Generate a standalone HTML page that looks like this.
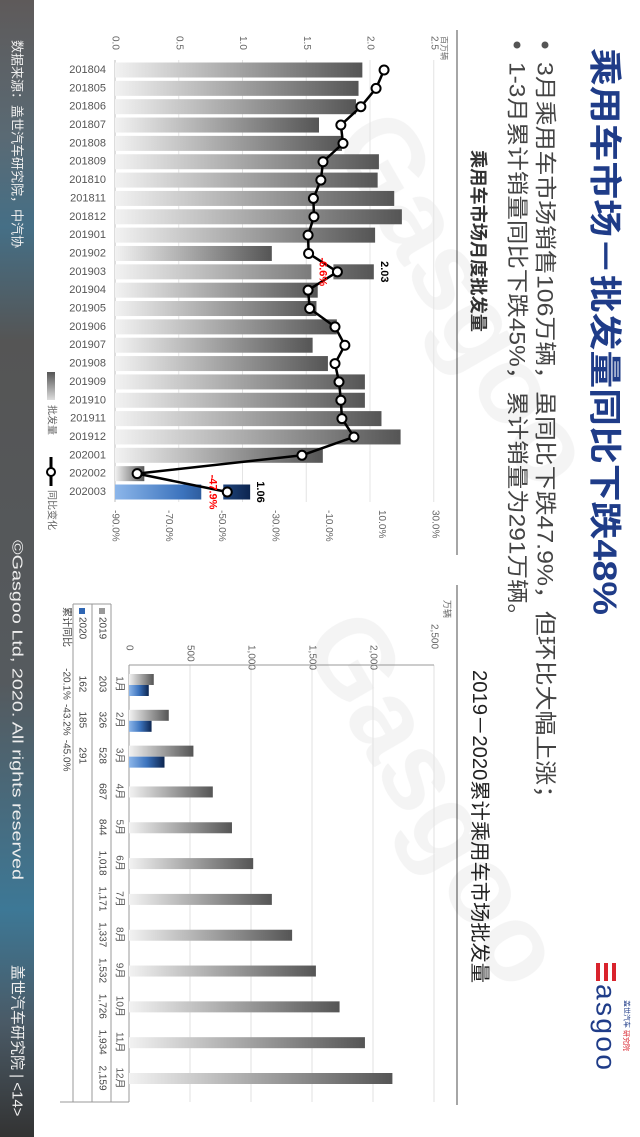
<!DOCTYPE html>
<html><head><meta charset="utf-8"><style>
html,body{margin:0;padding:0;background:#fff;}
svg{display:block;font-family:"Liberation Sans","Noto Sans CJK SC",sans-serif;}
</style></head><body>
<svg id="s" width="640" height="1137" viewBox="0 0 640 1137" xmlns="http://www.w3.org/2000/svg">
<defs>
<linearGradient id="footerG" x1="0" y1="0" x2="0" y2="1">
<stop offset="0" stop-color="#5e5a5a"/><stop offset="0.12" stop-color="#5a6a74"/><stop offset="0.2" stop-color="#456f86"/><stop offset="0.3" stop-color="#555"/><stop offset="0.6" stop-color="#555a5e"/><stop offset="0.8" stop-color="#3d7896"/><stop offset="0.9" stop-color="#4a5a66"/><stop offset="1" stop-color="#333"/>
</linearGradient>
<linearGradient id="grayH" x1="0" y1="0" x2="1" y2="0"><stop offset="0" stop-color="#f2f2f2"/><stop offset="1" stop-color="#555"/></linearGradient>
<linearGradient id="blueH" x1="0" y1="0" x2="1" y2="0"><stop offset="0" stop-color="#8cb6ea"/><stop offset="0.5" stop-color="#3c73bd"/><stop offset="1" stop-color="#0c2550"/></linearGradient>
<linearGradient id="grayV" x1="0" y1="0" x2="0" y2="1"><stop offset="0" stop-color="#555"/><stop offset="1" stop-color="#ddd"/></linearGradient>
</defs>

<rect x="0" y="0" width="34" height="1137" fill="url(#footerG)"/>
<text transform="translate(17,40) rotate(90)" dominant-baseline="central" font-size="13" fill="#eee">数据来源：盖世汽车研究院，中汽协</text>
<text transform="translate(17,540) rotate(90)" dominant-baseline="central" font-size="15" fill="#eee" textLength="340" lengthAdjust="spacingAndGlyphs">©Gasgoo Ltd, 2020. All rights reserved</text>
<text transform="translate(17,965) rotate(90)" dominant-baseline="central" font-size="15" fill="#eee">盖世汽车研究院 | &lt;14&gt;</text>

<text transform="translate(605,48) rotate(90)" dominant-baseline="central" font-size="33" font-weight="bold" fill="#1f3c88" textLength="567" lengthAdjust="spacingAndGlyphs">乘用车市场－批发量同比下跌48%</text>
<circle cx="545" cy="45" r="3.5" fill="#555"/>
<circle cx="517" cy="45" r="3.5" fill="#555"/>
<text transform="translate(545,62) rotate(90)" dominant-baseline="central" font-size="22" fill="#444" textLength="748" lengthAdjust="spacingAndGlyphs">3月乘用车市场销售106万辆，虽同比下跌47.9%，但环比大幅上涨；</text>
<text transform="translate(517,62) rotate(90)" dominant-baseline="central" font-size="22" fill="#444" textLength="566" lengthAdjust="spacingAndGlyphs">1-3月累计销量同比下跌45%，累计销量为291万辆。</text>

<text transform="translate(478,150) rotate(90)" dominant-baseline="central" font-size="18" font-weight="bold" fill="#333" textLength="182" lengthAdjust="spacingAndGlyphs">乘用车市场月度批发量</text>
<text transform="translate(479,670) rotate(90)" dominant-baseline="central" font-size="20" fill="#222" textLength="313" lengthAdjust="spacingAndGlyphs">2019－2020累计乘用车市场批发量</text>

<line x1="457" y1="30" x2="457" y2="555" stroke="#888" stroke-width="1.5"/>
<line x1="457" y1="585" x2="457" y2="1105" stroke="#888" stroke-width="1.5"/>

<g>
<rect x="596" y="963" width="4" height="18" fill="#d9232d"/>
<rect x="604" y="963" width="4" height="18" fill="#d9232d"/>
<rect x="612" y="963" width="4" height="18" fill="#d9232d"/>
<text transform="translate(606,984) rotate(90)" dominant-baseline="central" font-size="28" fill="#1f3c88" textLength="86">asgoo</text>
<text transform="translate(626,1000) rotate(90)" dominant-baseline="central" font-size="7" fill="#1f3c88">盖世汽车 <tspan fill="#d9232d">研究院</tspan></text>
</g>

<g opacity="0.045">
<text transform="translate(330,140) rotate(60)" font-size="110" font-weight="bold" fill="#000">Gasgoo</text>
<text transform="translate(300,640) rotate(60)" font-size="110" font-weight="bold" fill="#000">Gasgoo</text>
</g>

<g id="left"></g>
<g id="right"></g>
</svg>
<script>
// Left chart data
const months = ["201804","201805","201806","201807","201808","201809","201810","201811","201812","201901","201902","201903","201904","201905","201906","201907","201908","201909","201910","201911","201912","202001","202002","202003"];
const wholesale = [1.94,1.91,1.89,1.60,1.78,2.07,2.06,2.19,2.25,2.04,1.23,2.03,1.59,1.58,1.74,1.55,1.67,1.96,1.96,2.09,2.24,1.63,0.23,1.06];
const yoy = [10.9,7.9,2.2,-5.3,-4.5,-12.0,-12.8,-15.6,-15.4,-17.6,-17.4,-6.6,-17.6,-17.0,-7.5,-3.8,-7.5,-6.0,-5.3,-4.9,-0.4,-19.9,-81.7,-47.9];
const valueTicks = ["0.0","0.5","1.0","1.5","2.0","2.5"];
const pctTicks = ["-90.0%","-70.0%","-50.0%","-30.0%","-10.0%","10.0%","30.0%"];
// Right chart data
const cumMonths = ["1月","2月","3月","4月","5月","6月","7月","8月","9月","10月","11月","12月"];
const cum2019 = [203,326,528,687,844,1018,1171,1337,1532,1726,1934,2159];
const cum2020 = [162,185,291];
const cumYoy = ["-20.1%","-43.2%","-45.0%"];
const cumTicks = ["0","500","1,000","1,500","2,000","2,500"];

const NS="http://www.w3.org/2000/svg";
function mk(parent,tag,attrs,txt){const e=document.createElementNS(NS,tag);for(const k in attrs)e.setAttribute(k,attrs[k]);if(txt!==undefined)e.textContent=txt;parent.appendChild(e);return e;}
function vtext(parent,x,y,s,size,fill,anchor){return mk(parent,'text',{transform:`translate(${x},${y}) rotate(90)`,'dominant-baseline':'central','font-size':size,fill:fill,'text-anchor':anchor||'start'},s);}

// ----- left chart
const L=document.getElementById('left');
const x0=115, xPer=127.5, y0=70, yStep=(492-70)/23, bh=15;
const vx=v=>x0+v*xPer;
const px=p=>115+(p+90)*320/120;
const cy=i=>y0+i*yStep;
valueTicks.forEach((t,i)=>{
  const v=parseFloat(t);
  const g=mk(L,'line',{x1:vx(v),y1:60,x2:vx(v),y2:502,stroke:i===0?'#bbb':'#e4e4e4','stroke-width':1});
  
  
  const tt=vtext(L,vx(v),36,t,10,'#666');
  
  
});
const unitL=vtext(L,444,36,"百万辆",8,'#666');


pctTicks.forEach(t=>{
  const tt=vtext(L,px(parseFloat(t)),510,t,10,'#666');
  
  
});
months.forEach((m,i)=>{
  const last=i===months.length-1;
  const r=mk(L,'rect',{x:x0,y:cy(i)-bh/2,width:wholesale[i]*xPer,height:bh,fill:last?'url(#blueH)':'url(#grayH)'});
  
  
  const lb=mk(L,'text',{x:106,y:cy(i),'text-anchor':'end','dominant-baseline':'central','font-size':11,fill:'#555'},m);
  
  
});
[11,23].forEach(i=>{
  const b=mk(L,'rect',{x:px(yoy[i])-26,y:cy(i)-bh/2-1,width:22,height:bh+2,fill:'#fff'});
  
  
});
let d='';
yoy.forEach((p,i)=>{d+=(i?'L':'M')+px(p)+','+cy(i);});
const ln=mk(L,'path',{d:d,fill:'none',stroke:'#000','stroke-width':2.5,'stroke-linejoin':'round'});


yoy.forEach((p,i)=>{
  const c=mk(L,'circle',{cx:px(p),cy:cy(i),r:4.5,fill:'#fff',stroke:'#000','stroke-width':2});
  
  
});
[11,23].forEach(i=>{
  const t1=vtext(L,px(yoy[i])-15,cy(i),yoy[i].toFixed(1)+'%',11,'#f00','middle');
  t1.setAttribute('font-weight','bold');
  
  
  const t2=vtext(L,vx(wholesale[i])+10,cy(i),wholesale[i].toFixed(2),11,'#000','middle');
  t2.setAttribute('font-weight','bold');
  
  
});
// legend
const sw=mk(L,'rect',{x:47,y:372,width:8,height:28,fill:'url(#grayV)'});


const lt1=vtext(L,51,405,"批发量",10,'#666');


const ll=mk(L,'line',{x1:51,y1:457,x2:51,y2:486,stroke:'#000','stroke-width':3});


const lc=mk(L,'circle',{cx:51,cy:472,r:4,fill:'#fff',stroke:'#000','stroke-width':2});


const lt2=vtext(L,51,490,"同比变化",10,'#666');



// ----- right chart
const R=document.getElementById('right');
const rx0=129, rPer=61/500, ry0=685, rStep=(1079-685)/11, rbh=11;
const rvx=v=>rx0+v*rPer;
const rcy=i=>ry0+i*rStep;
cumTicks.forEach((t,i)=>{
  const v=parseFloat(t.replace(',',''));
  if(i>0){
    const g=mk(R,'line',{x1:rvx(v),y1:665,x2:rvx(v),y2:1102,stroke:'#e2e2e2','stroke-width':1});
    
    
  }
  const tt=vtext(R,rvx(v),i===cumTicks.length-1?624:645,t,10,'#666');
  
  
});
const unitR=vtext(R,447,600,"万辆",9,'#666');


[[129,665,434,665],[129,665,129,1102],[111,604,111,1102],[92,604,92,1102],[73,604,73,1102],[60,1102,129,1102],[73,604,111,604]].forEach(a=>{
  const l=mk(R,'line',{x1:a[0],y1:a[1],x2:a[2],y2:a[3],stroke:'#999','stroke-width':1});
  
  
});
cumMonths.forEach((m,i)=>{
  const has2020=i<cum2020.length;
  const r=mk(R,'rect',{x:rx0,y:rcy(i)-(has2020?11:6),width:cum2019[i]*rPer,height:rbh,fill:'url(#grayH)'});
  
  
  if(has2020){
    const b=mk(R,'rect',{x:rx0,y:rcy(i),width:cum2020[i]*rPer,height:rbh,fill:'url(#blueH)'});
    
    
    const t=vtext(R,82,rcy(i)-1,String(cum2020[i]),10,'#444','middle');
    
    
    const t2=vtext(R,66,rcy(i)-1,cumYoy[i],10,'#444','middle');
    
    
  }
  const c=vtext(R,119,rcy(i)-1,m,10,'#555','middle');
  
  
  const v=vtext(R,102,rcy(i)-1,cum2019[i].toLocaleString('en-US'),10,'#444','middle');
  
  
});
const k1=mk(R,'rect',{x:99,y:608,width:6,height:6,fill:'#999'});


const h1=vtext(R,102,617,"2019",10,'#444');


const k2=mk(R,'rect',{x:79,y:608,width:6,height:6,fill:'#2f66b3'});


const h2=vtext(R,82,617,"2020",10,'#444');


const h3=vtext(R,66,607,"累计同比",10,'#444');


</script>
</body></html>
